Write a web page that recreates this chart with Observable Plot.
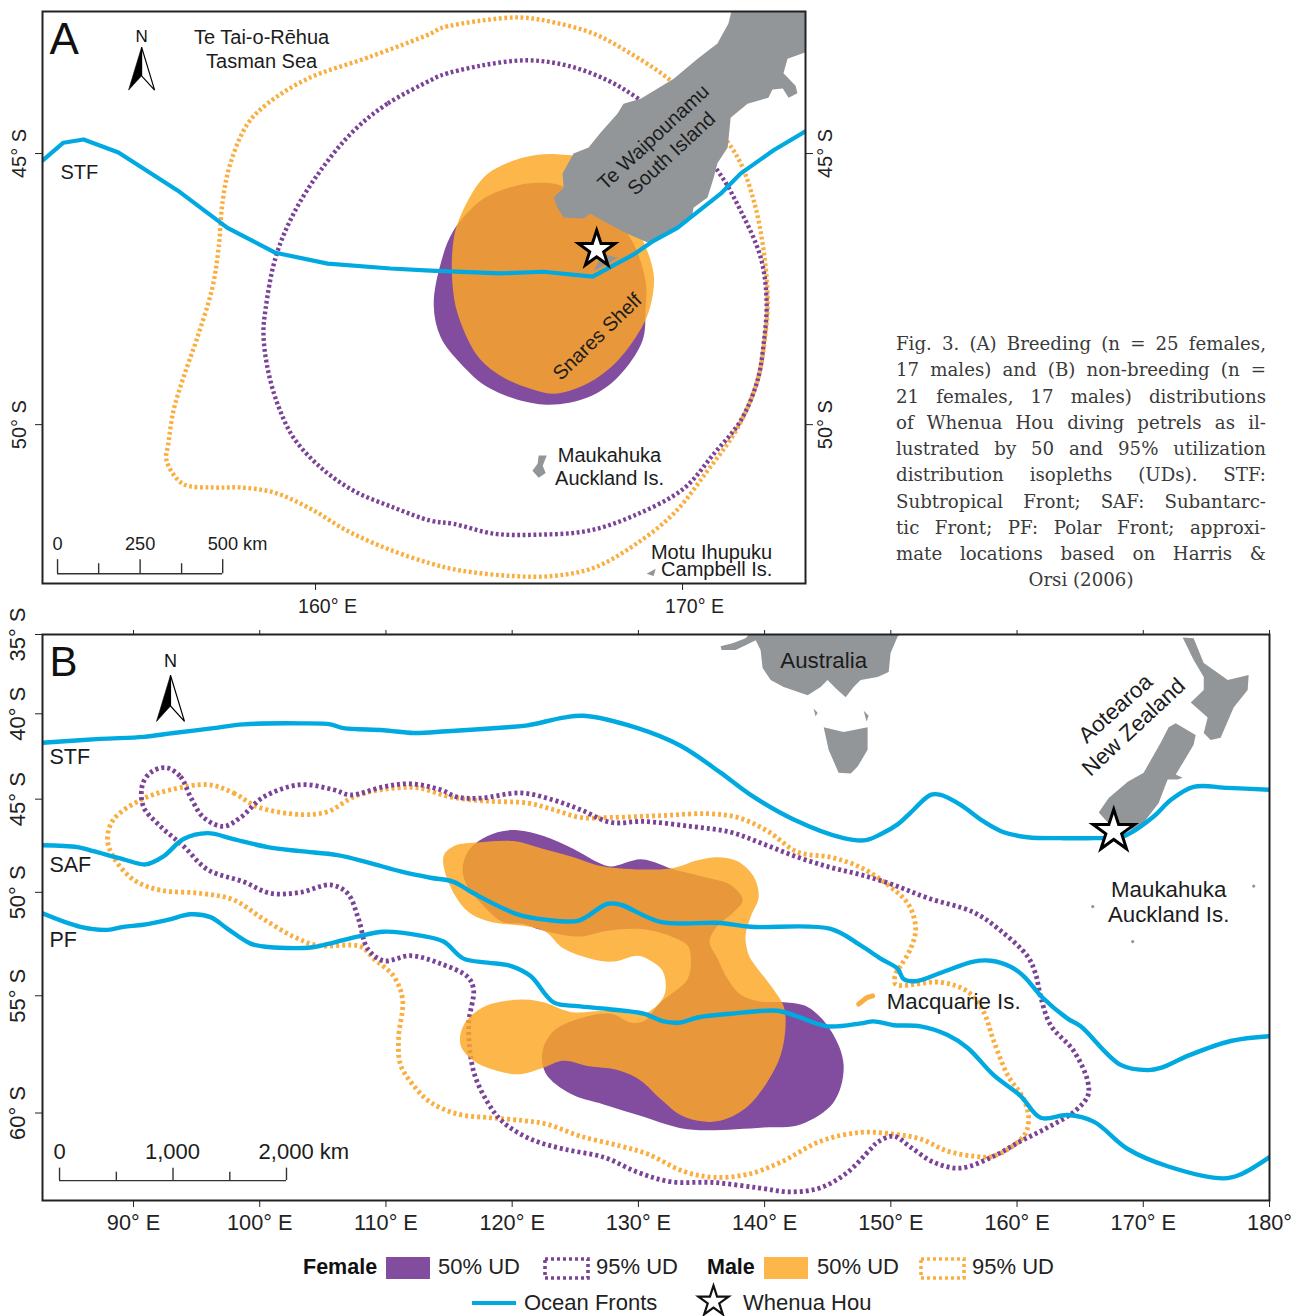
<!DOCTYPE html>
<html><head><meta charset="utf-8">
<script src="https://cdn.jsdelivr.net/npm/d3@7"></script>
<script src="https://cdn.jsdelivr.net/npm/@observablehq/plot@0.6"></script>
<style>
html,body{margin:0;padding:0;background:#fff}
#page{position:relative;width:1297px;height:1316px;overflow:hidden;font-family:"Liberation Sans",Arial,sans-serif;color:#222}
#page>svg,#page>div.p{position:absolute}
#caption{position:absolute;left:896px;top:331px;width:370px;font-family:"DejaVu Serif",serif;font-size:18.2px;line-height:26.25px;color:#3a3a3a}
#caption div{text-align:justify;text-align-last:justify;white-space:nowrap}
#caption div.last{text-align-last:center}
.lg{position:absolute;font-size:22px;line-height:26px;white-space:nowrap;color:#222}
.lg.b{font-weight:bold;font-size:21.5px;color:#111}
</style></head><body><div id="page"></div>
<script>
// ---------- Panel A: breeding (lon E, lat S) ----------
const frontA=[[152.56,45.13],[153.13,44.80],[153.68,44.74],[154.63,44.98],[156.24,45.68],[157.60,46.37],[158.91,46.83],[160.33,47.03],[162.04,47.12],[163.13,47.16],[165.04,47.21],[166.21,47.18],[167.55,47.27],[168.67,46.86],[169.21,46.61],[169.86,46.37],[171.04,45.74],[171.58,45.37],[172.48,44.94],[173.35,44.59]];
const female95A=[[163.13,43.65],[161.96,44.08],[161.04,44.58],[160.14,45.31],[159.40,46.11],[158.91,46.92],[158.64,47.86],[158.58,48.32],[158.69,48.95],[158.96,49.61],[159.40,50.24],[160.14,50.79],[161.04,51.22],[162.13,51.53],[163.13,51.77],[163.76,51.83],[164.85,52.01],[166.05,52.03],[167.41,51.96],[168.67,51.68],[170.03,51.18],[170.85,50.54],[171.58,49.93],[172.04,49.19],[172.21,48.51],[172.29,47.71],[172.13,46.92],[171.58,46.05],[170.95,45.31],[169.95,44.58],[168.80,43.99],[167.96,43.65],[166.87,43.38],[165.78,43.28],[164.50,43.38],[163.41,43.56]];
const male95A=[[163.13,42.79],[161.42,43.23],[159.78,43.62],[158.69,44.08],[158.15,44.45],[157.68,45.18],[157.47,45.87],[157.36,46.73],[157.19,47.47],[156.78,48.39],[156.40,49.13],[156.13,49.74],[155.99,50.35],[155.94,50.66],[156.38,51.09],[157.22,51.16],[157.96,51.16],[158.86,51.25],[159.86,51.55],[160.87,51.96],[161.96,52.29],[163.13,52.56],[163.95,52.69],[165.31,52.79],[166.49,52.79],[167.58,52.64],[168.67,52.23],[169.76,51.64],[170.68,50.85],[171.50,50.06],[172.04,49.19],[172.26,48.32],[172.32,47.71],[172.21,46.79],[171.94,45.87],[171.50,45.07],[170.63,44.30],[169.67,43.65],[168.67,43.19],[167.58,42.79],[166.49,42.58],[165.59,42.49],[164.50,42.55],[163.41,42.69]];
const female50A=[[163.76,46.42],[164.58,45.83],[165.50,45.59],[166.05,45.54],[166.68,45.59],[167.49,45.96],[168.50,46.48],[168.99,47.34],[168.99,47.90],[168.91,48.45],[168.23,49.13],[167.41,49.50],[166.21,49.63],[164.77,49.34],[163.95,48.87],[163.41,48.39],[163.22,47.80],[163.41,47.03]];
const male50A=[[163.87,46.29],[164.58,45.44],[165.40,45.13],[166.05,45.02],[166.76,45.02],[167.14,45.07],[168.31,45.87],[168.86,46.51],[169.21,47.21],[169.16,47.71],[168.94,48.14],[168.23,48.82],[167.41,49.24],[166.49,49.43],[165.86,49.34],[165.04,49.10],[164.41,48.73],[163.87,47.95],[163.73,47.40],[163.73,46.79]];
const southIslandA=[[171.36,42.30],[173.49,42.27],[173.49,43.10],[172.86,43.25],[172.75,43.52],[173.08,43.75],[173.13,43.89],[172.89,43.97],[172.73,43.80],[172.45,43.82],[172.34,43.97],[171.77,44.08],[171.31,44.34],[171.23,44.89],[170.95,45.18],[170.85,45.44],[170.68,45.81],[170.30,46.00],[170.27,46.11],[169.86,46.38],[169.40,46.57],[169.05,46.64],[168.50,46.48],[167.96,46.29],[167.49,46.11],[167.30,46.20],[166.76,46.18],[166.59,46.00],[166.49,45.81],[166.76,45.63],[166.73,45.37],[167.03,45.00],[167.44,44.89],[167.77,44.61],[168.23,44.26],[168.39,44.08],[168.86,43.99],[169.76,43.62],[170.41,43.25],[170.95,42.97],[171.25,42.60]];
const stewartA=[[168.23,46.92],[167.98,47.03],[167.58,47.16],[167.82,46.85]];
const aucklandA=[[166.08,50.57],[166.30,50.57],[166.19,50.76],[166.27,50.89],[166.08,50.98],[165.91,50.85],[166.05,50.72]];
const campbellA=[[169.27,52.66],[169.21,52.79],[169.02,52.75]];
const textA=[["Te Tai-o-Rēhua",158.53,42.86,0],["Tasman Sea",158.53,43.30,0],["Te Waipounamu",169.21,44.70,-43],["South Island",169.70,45.00,-43],["Snares Shelf",167.68,48.38,-44],["Maukahuka",168.01,50.57,0],["Auckland Is.",168.01,51.00,0],["Motu Ihupuku",170.79,52.36,0],["Campbell Is.",170.93,52.68,0]];
const scaleTicksA=[152.97,154.09,155.22,156.35,157.47];
const scaleLabelsA=[["0",152.97,52.21],["250",155.22,52.21]];
const scaleUnitA=[["500 km",157.06,52.21]];

// ---------- Panel B: non-breeding ----------
const stfB=[[82.79,41.74],[87.39,41.51],[90.79,41.39],[93.17,41.16],[96.34,40.87],[98.72,40.64],[103.23,40.58],[105.61,40.64],[106.64,40.87],[109.81,40.99],[112.19,41.16],[114.88,41.05],[119.64,40.81],[121.22,40.70],[124.07,40.23],[125.66,40.12],[129.94,40.87],[133.34,41.92],[136.51,43.49],[138.89,44.76],[142.30,46.13],[146.26,47.15],[148.00,47.26],[149.19,46.94],[150.54,46.40],[151.57,45.75],[153.15,44.76],[153.95,44.76],[155.53,45.32],[157.35,46.24],[158.94,46.83],[160.84,47.10],[163.46,47.15],[166.07,47.15],[168.45,47.04],[170.82,45.97],[172.17,45.05],[173.99,44.30],[176.69,44.36],[180,44.47]];
const safB=[[82.79,47.53],[85.56,47.63],[86.83,47.85],[89.21,48.28],[90.95,48.55],[92.38,48.12],[93.96,47.20],[95.86,46.88],[97.92,47.20],[100.62,47.63],[103.23,47.85],[106.16,48.06],[108.54,48.44],[111.16,48.92],[113.53,49.25],[115.36,49.46],[116.94,50.05],[120.43,51.11],[122.81,51.39],[125.18,51.44],[125.97,51.20],[127.56,50.58],[128.59,50.63],[131.76,51.49],[136.51,51.54],[138.89,51.73],[145.23,51.83],[147.61,52.64],[149.19,53.27],[150.54,53.75],[151.01,54.23],[151.97,54.33],[154.18,53.89],[156.56,53.41],[157.91,53.37],[159.49,53.65],[160.52,54.09],[162.03,55.09],[164.01,56.03],[165.04,56.37],[168.21,58.03],[170.35,58.25],[171.38,58.16],[173.52,57.65],[176.93,57.01],[180,56.80]];
const pfB=[[82.79,51.06],[85.80,51.73],[87.94,51.88],[89.21,51.73],[90.79,51.63],[92.69,51.39],[94.52,51.11],[96.10,51.25],[97.45,51.83],[99.27,52.55],[100.30,52.69],[104.03,52.74],[105.85,52.50],[107.75,52.21],[109.81,51.97],[112.74,52.16],[114.56,52.45],[116.15,53.27],[118.05,53.46],[119.87,53.61],[121.46,54.09],[123.28,55.30],[125.18,55.47],[127.56,55.60],[130.41,55.81],[132.00,56.15],[133.34,56.20],[134.69,55.98],[137.31,55.81],[141.03,55.68],[142.62,55.94],[144.99,56.37],[147.61,56.24],[148.64,56.15],[150.22,56.32],[152.36,56.37],[154.50,56.75],[156.09,57.31],[158.15,58.46],[160.29,59.32],[161.87,60.19],[164.01,60.08],[166.07,60.34],[168.77,61.40],[171.93,62.05],[176.37,62.50],[177.72,62.35],[180,61.71]];
const female95B=[[92.54,43.20],[93.72,43.72],[94.52,44.88],[95.55,46.02],[97.13,46.51],[98.48,46.02],[100.30,44.88],[103.23,44.18],[105.85,44.47],[107.20,44.76],[109.81,44.30],[111.95,44.13],[114.33,44.47],[115.67,44.88],[117.50,44.94],[120.67,44.65],[123.28,45.05],[125.42,45.59],[127.80,46.29],[130.41,46.24],[134.14,46.51],[137.31,46.83],[139.92,47.47],[142.62,48.17],[145.23,48.71],[147.61,49.09],[150.22,49.62],[152.92,50.29],[156.56,51.01],[158.70,51.92],[160.84,53.17],[161.47,53.99],[161.87,55.04],[162.66,56.32],[164.49,57.44],[165.60,58.72],[165.60,59.32],[164.49,59.96],[162.43,60.57],[160.29,61.10],[158.15,61.67],[155.53,62.12],[153.39,61.90],[151.57,61.33],[150.22,60.91],[148.95,61.14],[148.40,61.40],[146.58,62.27],[144.44,62.84],[142.06,62.99],[139.45,62.84],[135.96,62.65],[132.55,62.62],[129.94,62.27],[127.24,61.71],[124.07,61.40],[121.46,61.02],[119.32,60.38],[118.05,59.57],[116.94,58.29],[116.55,56.32],[116.94,54.71],[116.47,54.13],[114.33,53.51],[111.95,53.13],[109.81,53.37],[108.54,52.79],[107.83,51.35],[106.96,50.05],[105.61,49.62],[103.23,50.00],[100.86,50.05],[98.72,49.46],[95.86,48.82],[93.96,47.58],[92.14,46.51],[90.79,45.43],[90.71,44.18],[91.35,43.49]];
const male95B=[[95.94,44.18],[97.92,44.65],[99.83,45.43],[103.23,45.86],[105.37,45.70],[107.43,44.88],[109.57,44.47],[112.50,44.36],[115.12,44.88],[118.05,45.11],[121.22,45.22],[123.28,45.59],[125.42,46.02],[127.80,46.02],[132.00,45.91],[135.48,45.81],[137.86,46.02],[140.24,46.77],[142.62,47.90],[145.23,48.17],[147.61,48.71],[149.98,49.73],[151.41,50.63],[151.97,51.83],[151.57,52.79],[150.78,53.61],[150.38,53.99],[150.38,54.47],[153.95,54.38],[156.09,54.81],[157.35,55.73],[158.15,57.01],[159.26,58.46],[160.52,59.44],[160.92,60.27],[160.52,60.91],[158.15,61.67],[156.56,61.67],[154.50,61.48],[152.36,61.02],[150.22,60.83],[147.61,60.76],[144.44,61.10],[141.27,61.90],[138.65,62.35],[135.96,62.46],[133.58,62.24],[130.73,61.59],[128.59,61.29],[125.42,60.91],[122.81,60.45],[120.90,60.30],[118.29,60.19],[115.67,60.04],[113.53,59.57],[112.19,58.89],[111.16,58.03],[111.00,56.88],[111.32,55.17],[110.60,54.09],[109.02,53.27],[107.99,52.69],[104.58,52.64],[102.68,52.21],[100.30,51.35],[97.92,50.38],[95.31,50.05],[92.14,49.89],[90.00,49.35],[88.42,48.17],[87.94,47.20],[88.42,46.13],[90.55,45.05],[92.93,44.47]];
const female50B=[[117.34,47.31],[118.84,46.83],[120.43,46.72],[122.49,47.04],[124.87,47.74],[126.77,48.44],[127.80,48.66],[130.17,48.28],[131.76,48.55],[132.55,48.76],[135.48,49.25],[137.31,49.62],[138.26,50.38],[137.54,51.01],[136.28,51.68],[135.64,52.45],[136.28,53.27],[137.07,54.23],[138.10,54.95],[139.68,55.26],[141.51,55.30],[143.41,55.51],[145.23,56.54],[146.26,58.03],[145.47,59.57],[142.85,60.45],[139.92,60.57],[135.17,60.68],[133.11,60.57],[130.41,60.15],[127.24,59.66],[124.63,59.23],[122.65,58.38],[122.41,57.44],[123.28,56.58],[124.87,56.11],[127.80,55.81],[129.38,56.20],[130.41,56.15],[131.76,55.30],[133.90,54.23],[134.14,53.13],[133.90,52.64],[132.00,52.07],[129.94,51.83],[127.56,51.92],[125.18,52.21],[122.25,51.88],[120.90,51.59],[119.24,51.49],[117.50,50.53],[116.47,49.73],[116.07,48.82],[116.47,47.90]];
const male50B=[[114.56,48.12],[115.36,47.58],[117.50,47.37],[120.11,47.31],[122.49,47.74],[124.87,48.17],[127.24,48.66],[132.55,48.76],[134.69,48.33],[136.28,48.17],[137.86,48.39],[139.13,49.19],[139.53,50.24],[138.89,51.25],[138.49,52.16],[138.65,52.93],[138.89,53.27],[140.71,54.71],[141.51,55.47],[141.66,56.32],[141.27,57.61],[140.24,58.72],[138.65,59.74],[136.75,60.27],[135.17,60.34],[133.34,60.08],[131.76,59.44],[130.17,58.68],[128.35,58.25],[125.97,58.08],[124.07,57.86],[122.41,58.16],[120.67,58.42],[118.84,58.29],[116.94,57.86],[115.91,57.18],[116.15,56.32],[117.73,55.51],[120.67,55.17],[122.49,55.30],[124.63,55.73],[127.56,55.68],[130.41,55.81],[131.76,55.26],[132.16,54.71],[131.92,53.85],[130.97,53.37],[129.94,53.13],[128.04,53.41],[126.21,53.27],[124.07,52.79],[122.49,51.92],[118.05,51.44],[116.47,50.96],[115.12,49.73]];
const macquarieMale=[[147.45,55.38],[148.08,55.09],[148.56,55.00]];
const australia=[[137.70,36.01],[136.59,36.01],[136.51,35.76],[137.46,35.57],[138.49,35.25],[139.05,34.75],[151.17,34.75],[150.54,35.13],[149.98,36.20],[149.83,37.41],[148.95,37.72],[147.61,37.91],[147.05,38.35],[146.42,38.99],[145.63,38.42],[144.99,37.91],[144.44,38.35],[143.41,38.86],[141.51,38.35],[140.48,37.91],[139.84,37.15],[139.68,36.01],[139.29,35.38],[138.49,35.70]];
const tasmania=[[144.68,40.81],[146.26,41.10],[148.16,40.81],[148.16,42.15],[147.37,43.14],[146.82,43.54],[145.86,43.49],[145.07,42.15]];
const kingIsland=[[143.88,39.68],[144.20,39.94],[144.04,40.17]];
const flindersIsland=[[147.85,39.81],[148.24,40.12],[148.08,40.46]];
const southIslandB=[[172.57,40.58],[174.15,41.28],[173.99,41.86],[172.96,43.14],[172.57,43.60],[173.12,43.78],[172.73,43.89],[171.93,43.89],[171.22,45.22],[169.79,46.51],[168.45,46.83],[167.18,46.29],[166.47,45.75],[167.26,44.94],[168.77,44.01],[170.03,43.49],[171.38,41.74],[172.01,40.81]];
const northIslandB=[[173.12,35.19],[173.99,35.25],[174.79,36.84],[175.58,37.28],[176.69,37.91],[178.35,37.59],[178.27,38.54],[177.16,39.62],[176.13,41.45],[175.34,41.57],[174.79,41.16],[175.10,40.23],[173.76,39.30],[174.79,38.54],[174.79,37.72],[173.99,36.65]];
const smallIslesB=[[166.0,50.72],[178.75,49.68],[169.16,52.45]];
const textB=[["Australia",144.68,36.71,0],["Aotearoa",167.81,39.68,-42],["New Zealand",169.24,40.81,-43],["Maukahuka",172.01,49.89,0],["Auckland Is.",172.01,51.15,0],["Macquarie Is.",154.98,55.26,0]];
const frontNamesB=[["STF",83.34,42.56],["SAF",83.34,48.60],["PF",83.34,52.40]];
const scaleTicksB=[84.14,88.64,93.13,97.63,102.12];
const scaleLabelsB=[["0",84.14,61.52],["1,000",93.09,61.52]];
const scaleUnitB=[["2,000 km",99.91,61.52]];
const whenuaHou=[[167.66,46.77]];

// tick labels
const lonTicksA=[160,170], latTicksA=[45,50];
const lonTicksB=[90,100,110,120,130,140,150,160,170,180], latTicksB=[35,40,45,50,55,60];

const PURPLE="#824C9F",PDASH="#7B4397",ORANGE="#FDA725",ODASH="#FBAE40",FRONT="#00A9E0",LAND="#929699",INK="#222";
const lon=d=>d[0],lat=d=>d[1];
// panel B is a Mercator map: latitude spacing widens southward
const merc=la=>Math.log(Math.tan(Math.PI/4+la*Math.PI/360))*180/Math.PI;
const arrow=side=>({draw(c,size){const s=Math.sqrt(size/Math.PI);c.moveTo(0,-1.8*s);
  if(side<0){c.lineTo(-s,1.5*s);c.lineTo(0,.4*s);}else{c.lineTo(s,1.5*s);c.lineTo(0,.4*s);}c.closePath();}});
const poly=(a,fill,extra={})=>Plot.line(a,{x:lon,y:lat,stroke:null,fill,curve:"linear-closed",clip:true,...extra});
const smooth=(a,fill,extra={})=>Plot.line(a,{x:lon,y:lat,stroke:null,fill,curve:"catmull-rom-closed",clip:true,...extra});
const dashed=(a,stroke,w,dash)=>Plot.line(a,{x:lon,y:lat,stroke,strokeWidth:w,strokeDasharray:dash,curve:"catmull-rom-closed",clip:true,strokeLinejoin:"miter",strokeLinecap:"butt"});
const labels=(a,fs,anchor)=>Plot.text(a,{x:d=>d[1],y:d=>d[2],text:d=>d[0],rotate:d=>d[3]||0,fontSize:fs,fill:"#1c1c1c",textAnchor:anchor||"middle",lineAnchor:"middle"});
const north=(lo,la,laN,r,fs)=>[
  Plot.dot([[lo,la]],{x:lon,y:lat,r,symbol:arrow(-1),fill:"#000",stroke:"#000",strokeWidth:.6}),
  Plot.dot([[lo,la]],{x:lon,y:lat,r,symbol:arrow(1),fill:"#fff",stroke:"#000",strokeWidth:1.2}),
  Plot.text([[lo,laN]],{x:lon,y:lat,text:()=>"N",fontSize:fs,fill:"#111",lineAnchor:"middle"})];
const scaleBar=(ticks,base,major,minor)=>[
  Plot.ruleY([base],{x1:ticks[0],x2:ticks[4],stroke:"#333",strokeWidth:1.4}),
  Plot.ruleX(ticks,{y1:base,y2:(d,i)=>i%2?minor:major,stroke:"#333",strokeWidth:1.4})];
const star=(r,sw)=>Plot.dot(whenuaHou,{x:lon,y:lat,r,symbol:"star",fill:"#fff",stroke:"#000",strokeWidth:sw,strokeLinejoin:"miter"});

const page=document.getElementById("page");

// Panel A
const A=Plot.plot({
  width:850,height:625,marginLeft:42,marginRight:45,marginTop:11,marginBottom:42,
  style:{background:"transparent",fontFamily:"'Liberation Sans',Arial,sans-serif",fontSize:"19px",color:INK},
  x:{domain:[152.56,173.35],range:[42,805]},
  y:{domain:[42.38,52.93],range:[11,583]},
  marks:[
    dashed(male95A,ODASH,4.4,"2.8,2.6"),
    dashed(female95A,PDASH,4.4,"2.8,2.6"),
    smooth(female50A,PURPLE),
    smooth(male50A,ORANGE,{fillOpacity:.83}),
    poly(southIslandA,LAND),poly(stewartA,LAND),poly(aucklandA,LAND),poly(campbellA,LAND),
    Plot.line(frontA,{x:lon,y:lat,stroke:FRONT,strokeWidth:4.2,clip:true}),
    star(11.5,3),
    labels(textA,20),
    labels([["STF",153.05,45.35]],20,"start"),
    ...north(155.26,43.47,42.84,13,17),
    ...scaleBar(scaleTicksA,52.75,52.49,52.565),
    labels(scaleLabelsA,18.2),
    labels(scaleUnitA,18.2,"start"),
    Plot.text(["A"],{frameAnchor:"top-left",dx:7,dy:11,fontSize:44,fill:"#111",lineAnchor:"top"}),
    Plot.frame({stroke:"#222",strokeWidth:2}),
    Plot.axisX({anchor:"bottom",ticks:lonTicksA,tickFormat:()=>"",tickSize:7,label:null}),
    Plot.text(lonTicksA,{x:d=>d,frameAnchor:"bottom",dy:23,dx:12,text:d=>d+"° E",fontSize:19.6,fill:"#222",lineAnchor:"middle"}),
    Plot.axisY({anchor:"left",ticks:latTicksA,tickFormat:d=>d+"° S",tickSize:7,tickPadding:10,tickRotate:-90,label:null,fontSize:20}),
    Plot.axisY({anchor:"right",ticks:latTicksA,tickFormat:d=>d+"° S",tickSize:7,tickPadding:19,tickRotate:-90,label:null,fontSize:20})
  ]});
A.style.left="0";A.style.top="0";page.append(A);

// Panel B
const offB=600;
const B=Plot.plot({
  width:1297,height:645,marginLeft:42,marginRight:28,marginTop:34,marginBottom:45,
  style:{background:"transparent",fontFamily:"'Liberation Sans',Arial,sans-serif",fontSize:"21px",color:INK},
  x:{domain:[82.79,180],range:[42,1269]},
  y:{transform:merc,domain:[merc(35),merc(63.3)],range:[634-offB,1200-offB]},
  marks:[
    dashed(male95B,ODASH,4.8,"3,3"),
    dashed(female95B,PDASH,4.8,"3,3"),
    Plot.line(macquarieMale,{x:lon,y:lat,stroke:ODASH,strokeWidth:5,strokeDasharray:"2.5,1"}),
    smooth(female50B,PURPLE),
    smooth(male50B,ORANGE,{fillOpacity:.83}),
    poly(australia,LAND),poly(tasmania,LAND),poly(kingIsland,LAND),poly(flindersIsland,LAND),poly(southIslandB,LAND),poly(northIslandB,LAND),
    Plot.dot(smallIslesB,{x:lon,y:lat,r:1.6,fill:LAND}),
    Plot.line(stfB,{x:lon,y:lat,stroke:FRONT,strokeWidth:4.4,curve:"catmull-rom",clip:true}),
    Plot.line(safB,{x:lon,y:lat,stroke:FRONT,strokeWidth:4.4,curve:"catmull-rom",clip:true}),
    Plot.line(pfB,{x:lon,y:lat,stroke:FRONT,strokeWidth:4.4,curve:"catmull-rom",clip:true}),
    star(13,3),
    labels(textB,22.3),
    labels(frontNamesB,21.5,"start"),
    ...north(92.93,39.18,36.71,14,18),
    ...scaleBar(scaleTicksB,62.58,62.12,62.27),
    labels(scaleLabelsB,22),
    labels(scaleUnitB,22,"start"),
    Plot.text(["B"],{frameAnchor:"top-left",dx:7,dy:12,fontSize:42,fill:"#111",lineAnchor:"top"}),
    Plot.frame({stroke:"#222",strokeWidth:2}),
    Plot.axisX({anchor:"bottom",ticks:lonTicksB,tickFormat:d=>d===180?"180°":d+"° E",tickSize:7,tickPadding:7,label:null,fontSize:21.7}),
    Plot.axisX({anchor:"top",ticks:lonTicksB,tickFormat:()=>"",tickSize:5,label:null}),
    // axis ticks bypass the scale transform, so they are handed over already projected
    Plot.axisY({anchor:"left",ticks:latTicksB.map(merc),tickFormat:d=>latTicksB.find(t=>Math.abs(merc(t)-d)<1e-6)+"° S",tickSize:7,tickPadding:11,tickRotate:-90,label:null,fontSize:22})
  ]});
B.style.left="0";B.style.top=offB+"px";page.append(B);

// Caption
const captionLines=["Fig. 3. (A) Breeding (n = 25 females,","17 males) and (B) non-breeding (n =","21 females, 17 males) distributions","of Whenua Hou diving petrels as il-","lustrated by 50 and 95% utilization","distribution isopleths (UDs). STF:","Subtropical Front; SAF: Subantarc-","tic Front; PF: Polar Front; approxi-","mate locations based on Harris &","Orsi (2006)"];
const cap=document.createElement("div");cap.id="caption";
captionLines.forEach((t,i)=>{const d=document.createElement("div");d.textContent=t;if(i===captionLines.length-1)d.className="last";cap.append(d);});
page.append(cap);

// Legend
const legendText=[["Female",303,1267,1],["50% UD",438,1267],["95% UD",596,1267],["Male",707,1267,1],["50% UD",817,1267],["95% UD",972,1267],["Ocean Fronts",524,1303],["Whenua Hou",743,1303]];
legendText.forEach(([t,x,y,b])=>{const s=document.createElement("div");s.className="lg"+(b?" b":"");s.textContent=t;s.style.left=x+"px";s.style.top=(y-13)+"px";page.append(s);});
const NS="http://www.w3.org/2000/svg";
const swatches=document.createElementNS(NS,"svg");swatches.setAttribute("width",1297);swatches.setAttribute("height",1316);swatches.style.left="0";swatches.style.top="0";
swatches.innerHTML=`
<rect x="386" y="1257" width="44" height="22" fill="${PURPLE}"/>
<rect x="545" y="1259" width="43" height="19" fill="none" stroke="${PDASH}" stroke-width="3.6" stroke-dasharray="3,3"/>
<rect x="764" y="1257" width="44" height="22" fill="#FDB64A"/>
<rect x="921" y="1259" width="43" height="19" fill="none" stroke="${ODASH}" stroke-width="3.6" stroke-dasharray="3,3"/>
<line x1="472" x2="516" y1="1303" y2="1303" stroke="${FRONT}" stroke-width="4"/>`;
page.append(swatches);
const lgStar=Plot.plot({width:40,height:40,margin:0,x:{domain:[0,1],axis:null},y:{domain:[0,1],axis:null},style:{background:"transparent"},
  marks:[Plot.dot([[.5,.5]],{x:lon,y:lat,r:9.5,symbol:"star",fill:"#fff",stroke:"#111",strokeWidth:2.2,strokeLinejoin:"miter"})]});
lgStar.style.left="693px";lgStar.style.top="1281px";page.append(lgStar);
</script></body></html>
